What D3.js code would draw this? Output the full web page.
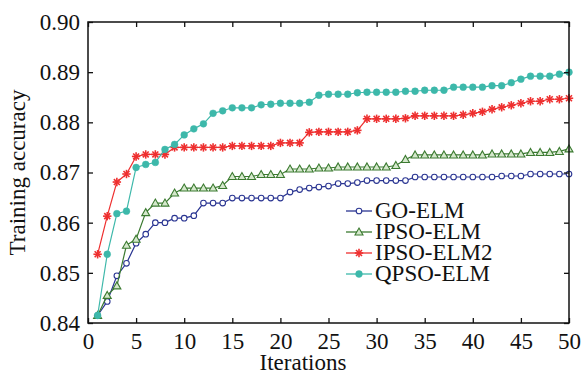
<html>
<head>
<meta charset="utf-8">
<script src="https://d3js.org/d3.v7.min.js"></script>
<style>
  body { margin: 0; background: white; }
  text { font-family: "Liberation Serif", "Times New Roman", serif; fill: #111; }
</style>
</head>
<body>
<svg width="581" height="374"></svg>
<script>
// iterations 1..50
var iterations = d3.range(1, 51);

var goElm = [0.8415,0.8443,0.8494,0.8519,0.8559,0.8577,0.8600,0.8600,0.8609,0.8609,
  0.8614,0.8639,0.8639,0.8639,0.8649,0.8649,0.8649,0.8649,0.8649,0.8649,
  0.8661,0.8666,0.8669,0.8671,0.8673,0.8678,0.8678,0.8680,0.8684,0.8684,
  0.8684,0.8684,0.8684,0.8691,0.8691,0.8691,0.8691,0.8691,0.8691,0.8691,
  0.8691,0.8691,0.8693,0.8693,0.8693,0.8697,0.8697,0.8697,0.8697,0.8697];

var ipsoElm = [0.8415,0.8455,0.8474,0.8555,0.8567,0.8620,0.8639,0.8639,0.8659,0.8669,
  0.8669,0.8669,0.8669,0.8674,0.8692,0.8692,0.8692,0.8696,0.8696,0.8696,
  0.8707,0.8707,0.8707,0.8709,0.8709,0.8711,0.8711,0.8711,0.8711,0.8711,
  0.8711,0.8714,0.8726,0.8735,0.8735,0.8735,0.8735,0.8735,0.8735,0.8735,
  0.8735,0.8737,0.8737,0.8737,0.8737,0.8740,0.8740,0.8740,0.8742,0.8747];

var ipsoElm2 = [0.8537,0.8613,0.8681,0.8697,0.8732,0.8736,0.8736,0.8736,0.8750,0.8750,
  0.8750,0.8750,0.8750,0.8750,0.8753,0.8753,0.8753,0.8753,0.8753,0.8759,
  0.8759,0.8759,0.8780,0.8781,0.8781,0.8781,0.8781,0.8784,0.8807,0.8807,
  0.8807,0.8807,0.8808,0.8813,0.8813,0.8813,0.8813,0.8813,0.8815,0.8818,
  0.8821,0.8826,0.8830,0.8834,0.8838,0.8842,0.8842,0.8846,0.8846,0.8848];

var qpsoElm = [0.8415,0.8537,0.8618,0.8623,0.8710,0.8716,0.8720,0.8746,0.8756,0.8775,
  0.8787,0.8797,0.8818,0.8823,0.8829,0.8829,0.8829,0.8835,0.8836,0.8838,
  0.8838,0.8838,0.8840,0.8854,0.8856,0.8856,0.8856,0.8859,0.8860,0.8860,
  0.8860,0.8860,0.8862,0.8862,0.8864,0.8864,0.8864,0.8870,0.8870,0.8870,
  0.8870,0.8873,0.8873,0.8879,0.8886,0.8892,0.8892,0.8892,0.8896,0.8900];

var seriesNames = ["GO-ELM", "IPSO-ELM", "IPSO-ELM2", "QPSO-ELM"];
var xTicks = [0, 5, 10, 15, 20, 25, 30, 35, 40, 45, 50];
var yTicks = [0.84, 0.85, 0.86, 0.87, 0.88, 0.89, 0.90];

var series = [
  {name: seriesNames[0], values: goElm, color: "#2a3592", marker: "circle"},
  {name: seriesNames[1], values: ipsoElm, color: "#3b7a30", marker: "triangle"},
  {name: seriesNames[2], values: ipsoElm2, color: "#ee2f2f", marker: "star"},
  {name: seriesNames[3], values: qpsoElm, color: "#3db8aa", marker: "dot"}
];

var svg = d3.select("svg");
var pLeft = 88, pRight = 569, pTop = 22, pBottom = 323;
var fontSize = "23px";

var x = d3.scaleLinear().domain([0, 50]).range([pLeft, pRight]);
var y = d3.scaleLinear().domain([0.84, 0.90]).range([pBottom, pTop]);

function drawMarker(g, type, color, cx, cy) {
  if (type == "circle") {
    g.append("circle").attr("cx", cx).attr("cy", cy).attr("r", 2.8)
      .style("fill", "white").style("stroke", color).style("stroke-width", 1.1);
  } else if (type == "triangle") {
    var s = 4;
    g.append("path").attr("d", "M" + cx + "," + (cy - s) + "L" + (cx + s) + "," + (cy + s * 0.75) + "L" + (cx - s) + "," + (cy + s * 0.75) + "Z")
      .style("fill", "#d5e8cc").style("stroke", color).style("stroke-width", 1.1);
  } else if (type == "star") {
    var r = 4.2;
    for (var a = 0; a < 4; a++) {
      var ang = a * Math.PI / 4;
      g.append("line")
        .attr("x1", cx - r * Math.cos(ang)).attr("y1", cy - r * Math.sin(ang))
        .attr("x2", cx + r * Math.cos(ang)).attr("y2", cy + r * Math.sin(ang))
        .style("stroke", color).style("stroke-width", 1.6);
    }
  } else {
    g.append("circle").attr("cx", cx).attr("cy", cy).attr("r", 3.4)
      .style("fill", color).style("stroke", color).style("stroke-width", 0.5);
  }
}

// series
var line = d3.line().x(function(d, i){ return x(iterations[i]); }).y(function(d){ return y(d); });
series.forEach(function(s){
  var g = svg.append("g");
  g.append("path").attr("d", line(s.values))
    .style("fill", "none").style("stroke", s.color).style("stroke-width", 1.2);
  s.values.forEach(function(v, i){ drawMarker(g, s.marker, s.color, x(iterations[i]), y(v)); });
});

// frame and inward ticks on all sides
svg.append("rect").attr("x", pLeft).attr("y", pTop).attr("width", pRight - pLeft).attr("height", pBottom - pTop)
  .style("fill", "none").style("stroke", "#111").style("stroke-width", 1.5);

var xAxis = svg.append("g").attr("transform", "translate(0," + pBottom + ")")
  .call(d3.axisBottom(x).tickValues(xTicks).tickSizeInner(-5).tickSizeOuter(0).tickPadding(10).tickFormat(d3.format("d")));
var xTop = svg.append("g").attr("transform", "translate(0," + pTop + ")")
  .call(d3.axisTop(x).tickValues(xTicks).tickSizeInner(-5).tickSizeOuter(0).tickFormat(""));
var yAxis = svg.append("g").attr("transform", "translate(" + pLeft + ",0)")
  .call(d3.axisLeft(y).tickValues(yTicks).tickSizeInner(-5).tickSizeOuter(0).tickPadding(8).tickFormat(d3.format(".2f")));
var yRight = svg.append("g").attr("transform", "translate(" + pRight + ",0)")
  .call(d3.axisRight(y).tickValues(yTicks).tickSizeInner(-5).tickSizeOuter(0).tickFormat(""));

[xAxis, xTop, yAxis, yRight].forEach(function(a){
  a.select(".domain").remove();
  a.selectAll("line").style("stroke", "#111").style("stroke-width", 1.3);
  a.selectAll("text").style("font-size", fontSize).style("font-family", "Liberation Serif").style("fill", "#111");
});
xAxis.selectAll("text").attr("dy", "0.71em").attr("y", 10);

// axis titles
svg.append("text").attr("x", 303).attr("y", 370).attr("text-anchor", "middle")
  .style("font-size", fontSize).text("Iterations");
svg.append("text").attr("transform", "translate(25," + ((pTop + pBottom) / 2) + ") rotate(-90)")
  .attr("text-anchor", "middle").style("font-size", fontSize).text("Training accuracy");

// legend
var legend = svg.append("g");
series.forEach(function(s, i){
  var ly = 211 + i * 21;
  legend.append("line").attr("x1", 346).attr("x2", 372).attr("y1", ly).attr("y2", ly)
    .style("stroke", s.color).style("stroke-width", 1.3);
  drawMarker(legend, s.marker, s.color, 359, ly);
  legend.append("text").attr("x", 375).attr("y", ly + 7).style("font-size", fontSize).text(s.name);
});
</script>
</body>
</html>
